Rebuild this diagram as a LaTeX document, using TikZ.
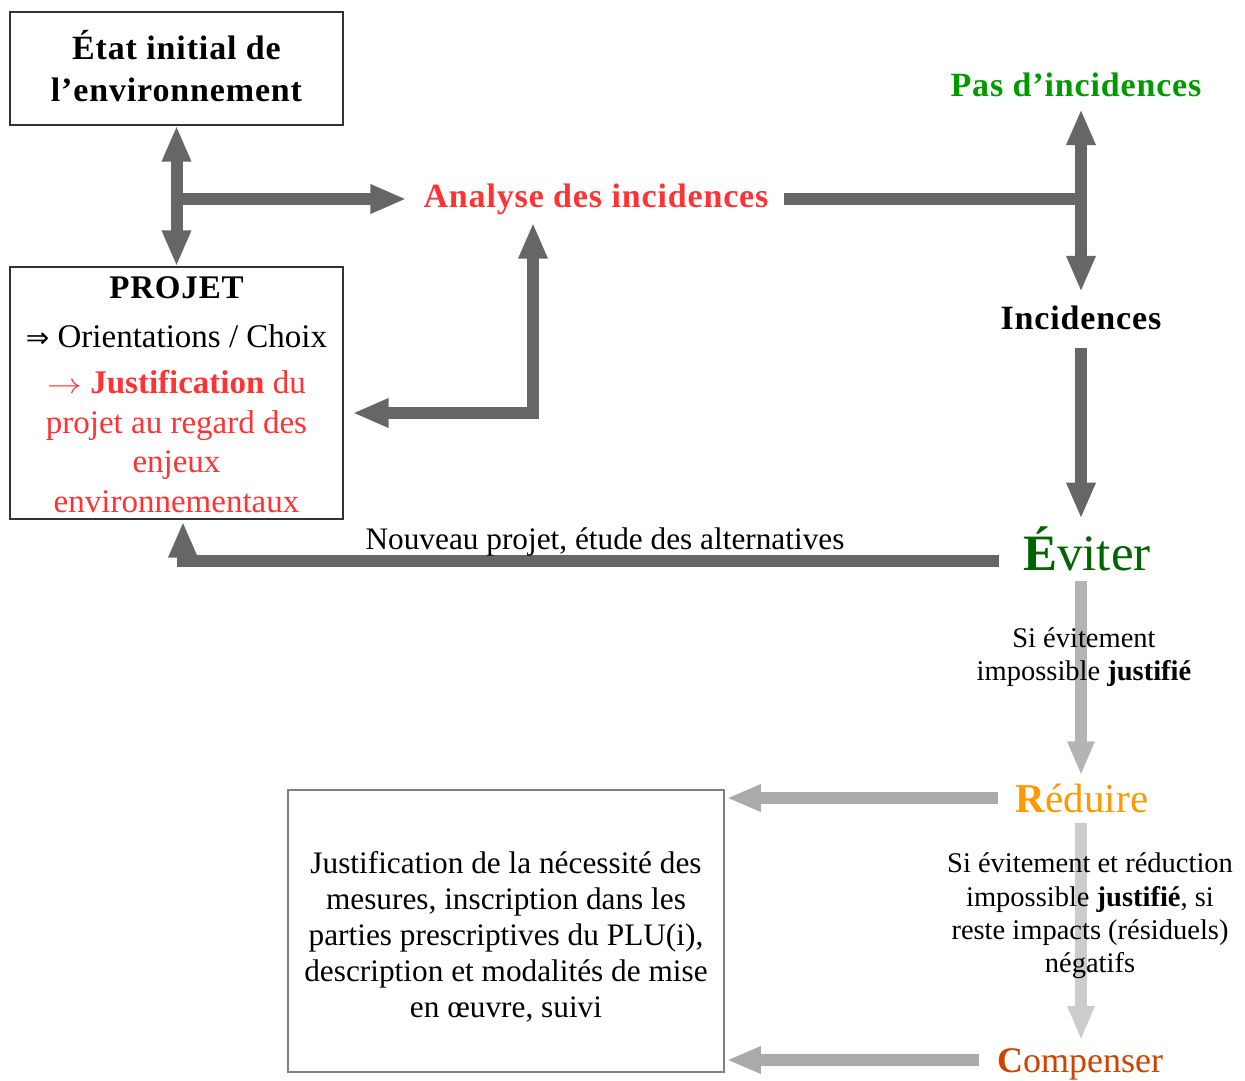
\documentclass[tikz,border=0pt]{standalone}
\usepackage{fontspec}
\setmainfont{Liberation Serif}
\newfontfamily\ttl[LetterSpace=2.5]{Liberation Serif}
\newfontfamily\symf{DejaVu Sans}
\usetikzlibrary{arrows.meta}
\definecolor{cred}{RGB}{255,51,51}
\definecolor{cgreen}{RGB}{0,153,0}
\definecolor{cdgreen}{RGB}{0,100,0}
\definecolor{corange}{RGB}{255,153,0}
\definecolor{ccomp}{RGB}{204,68,0}
\definecolor{dkgray}{RGB}{102,102,102}
\definecolor{lgA}{RGB}{170,170,170}
\definecolor{lgB}{RGB}{180,180,180}
\definecolor{lgC}{RGB}{204,204,204}
\begin{document}
\begin{tikzpicture}[x=1pt,y=-1pt,
  box/.style={draw=black!80, line width=1.2pt, align=center, inner sep=0pt},
  title/.style={font=\ttl\bfseries\fontsize{34}{42}\selectfont, inner sep=0pt, align=center},
  plain/.style={font=\fontsize{31.3}{36}\selectfont, inner sep=0pt, align=center},
  side/.style={font=\fontsize{28.5}{33.3}\selectfont, inner sep=0pt, align=center},
  dk/.style={draw=dkgray, line width=12pt},
  lt/.style={line width=12pt},
  dtip/.tip={Triangle[width=27pt,length=36pt]},
  ltip/.tip={Triangle[width=25pt,length=34pt]}
]
\useasboundingbox (0,0) rectangle (1245,1081);

% nodes
\node[box, title, minimum width=333pt, minimum height=113pt] (etat) at (176.5,68.5)
  {État initial de\\l’environnement\rule[-6pt]{0pt}{0pt}};
\node[box, minimum width=333pt, minimum height=252pt, font=\fontsize{33}{39.5}\selectfont] (projet) at (176.5,393)
  {\rule{0pt}{25pt}{\ttl\bfseries PROJET}\\[9pt]
   {\symf\fontsize{28}{30}\selectfont ⇒} Orientations / Choix\\[7pt]
   \textcolor{cred}{\scalebox{1.4}[1.15]{$\rightarrow$} \textbf{Justification} du}\\
   \textcolor{cred}{projet au regard des}\\
   \textcolor{cred}{enjeux}\\
   \textcolor{cred}{environnementaux}};
\node[title, text=cred] (analyse) at (596,199) {Analyse des incidences};
\node[title, text=cgreen] (pas) at (1076,85) {Pas d’incidences};
\node[title] (inc) at (1081,318) {Incidences};
\node[inner sep=0pt, text=cdgreen, font=\fontsize{51}{60}\selectfont] (eviter) at (1087,549) {\textbf{É}viter};
\node[inner sep=0pt, text=corange, font=\fontsize{41}{48}\selectfont] (reduire) at (1082,798) {\textbf{R}éduire};
\node[inner sep=0pt, text=ccomp, font=\fontsize{36}{42}\selectfont] (compenser) at (1080,1064) {\textbf{C}ompenser};
\node[box, draw=black!50, line width=1.5pt, plain, minimum width=436pt, minimum height=282pt] (mesures) at (506,931)
  {\rule{0pt}{33pt}Justification de la nécessité des\\
   mesures, inscription dans les\\
   parties prescriptives du PLU(i),\\
   description et modalités de mise\\
   en œuvre, suivi};

% dark connectors
\draw[dk, {dtip}-{dtip}] (etat.south) -- (projet.north);
\coordinate (j1) at (etat.south |- analyse.west);
\draw[dk, -{dtip}, shorten >=17pt] (j1) -- (analyse.west);
\coordinate (c3) at (533,413);
\draw[dk, {dtip}-{dtip}, shorten <=9pt, shorten >=8pt] (projet.east |- c3) -| (c3 |- analyse.south);
\coordinate (j2) at (inc.north |- analyse.east);
\draw[dk, shorten <=15pt] (analyse.east) -- ([xshift=6pt]j2);
\draw[dk, {dtip}-{dtip}, shorten <=12pt, shorten >=14pt] (inc.north |- pas.south) -- (inc.north);
\draw[dk, -{dtip}, shorten <=18pt, shorten >=8pt] (inc.south) -- (inc.south |- eviter.north);
\coordinate (c6) at ([yshift=-12pt]eviter.west);
\draw[dk, -{dtip}, shorten <=24pt, shorten >=2pt] (c6) -| ([xshift=6.5pt]projet.south);
\node[plain, anchor=base] (nouveau) at (605,549) {Nouveau projet, étude des alternatives};

% light connectors
\draw[lt, draw=lgB, -{ltip}, shorten <=10pt, shorten >=8pt] (eviter.south -| inc.south) -- (inc.south |- reduire.north);
\draw[lt, draw=lgA, -{ltip}, shorten <=18pt, shorten >=2pt] (reduire.west) -- (mesures.east |- reduire.west);
\draw[lt, draw=lgC, -{ltip}, shorten <=10pt, shorten >=8pt] (reduire.south -| inc.south) -- (inc.south |- compenser.north);
\coordinate (c10) at ([yshift=4pt]compenser.west);
\draw[lt, draw=lgA, -{ltip}, shorten <=18pt, shorten >=2pt] (c10) -- (mesures.east |- c10);

% labels over the arrows
\node[side] (si1) at (1084,657) {Si évitement\\impossible \textbf{justifié}};
\node[side] (si2) at (1090,916) {Si évitement et réduction\\impossible \textbf{justifié}, si\\reste impacts (résiduels)\\négatifs};
\end{tikzpicture}
\end{document}
